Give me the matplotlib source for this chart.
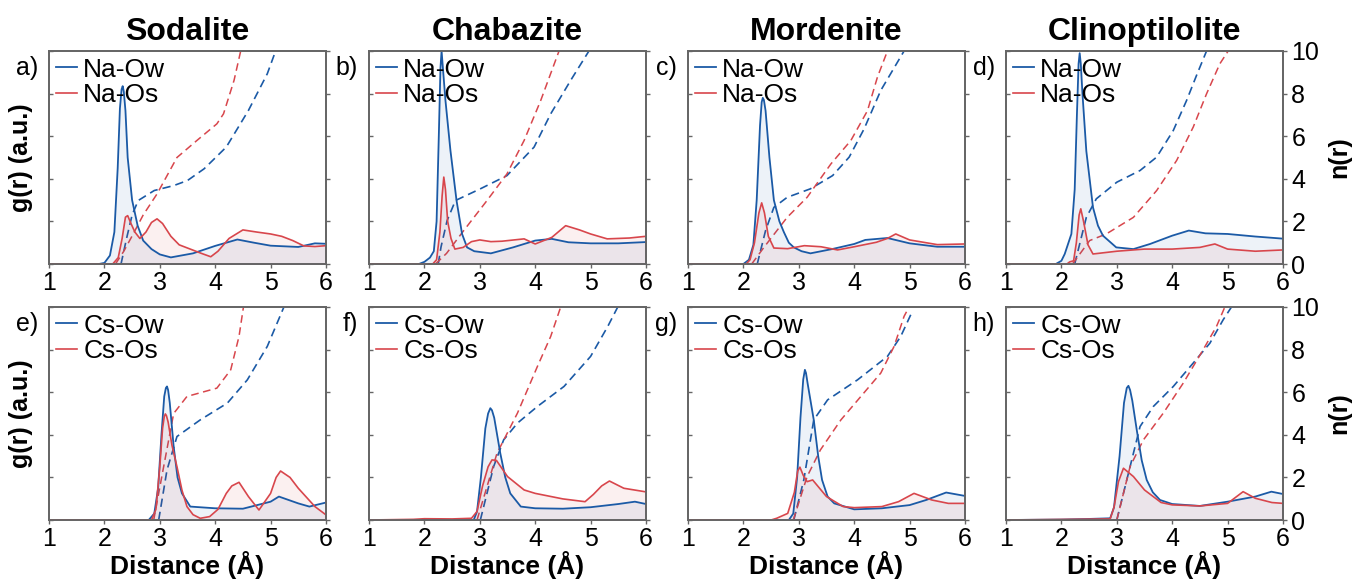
import matplotlib
matplotlib.use("Agg")
import matplotlib.pyplot as plt

plt.rcParams['font.family'] = ['Liberation Sans', 'DejaVu Sans']

titles = ["Sodalite", "Chabazite", "Mordenite", "Clinoptilolite"]
panel_letters = ["a)", "b)", "c)", "d)", "e)", "f)", "g)", "h)"]
ion_labels = ["Na", "Cs"]

# g(r) points (r, g) and n(r) points (r, n)
# --- Na row ---
a_ow = [(1.0, 0), (1.9, 0), (2.0, 0.05), (2.1, 0.4), (2.18, 1.5), (2.24, 4.5), (2.28, 7.3), (2.31, 8.2), (2.33, 8.35),
        (2.35, 8.1), (2.38, 7.2), (2.42, 5.0), (2.5, 3.0), (2.6, 1.8), (2.7, 1.1), (2.85, 0.7), (3.0, 0.45), (3.2, 0.31),
        (3.6, 0.5), (4.0, 0.85), (4.4, 1.15), (4.7, 1.0), (5.0, 0.86), (5.5, 0.8), (5.8, 0.97), (6.0, 0.95)]
a_os = [(1.0, 0), (2.15, 0), (2.25, 0.3), (2.32, 1.2), (2.38, 2.2), (2.42, 2.27), (2.48, 1.9), (2.55, 1.5),
        (2.64, 1.2), (2.75, 1.5), (2.85, 1.95), (2.95, 2.12), (3.05, 1.9), (3.2, 1.3), (3.35, 0.9),
        (3.55, 0.7), (3.75, 0.5), (3.92, 0.34), (4.05, 0.6), (4.25, 1.2), (4.5, 1.6), (4.75, 1.5),
        (5.0, 1.41), (5.2, 1.3), (5.4, 1.1), (5.6, 0.85), (5.8, 0.82), (6.0, 0.86)]
a_n_ow = [(2.3, 0), (2.4, 1.2), (2.5, 2.3), (2.61, 2.98), (2.9, 3.45), (3.25, 3.68), (3.5, 3.92), (3.8, 4.47),
          (4.2, 5.49), (4.6, 7.21), (4.94, 8.93), (5.09, 10), (5.15, 10.8)]
a_n_os = [(2.2, 0), (2.35, 0.6), (2.52, 1.41), (2.7, 2.3), (2.95, 3.29), (3.31, 5.0), (3.67, 5.8), (4.03, 6.58),
          (4.15, 7.05), (4.34, 8.62), (4.46, 10), (4.52, 10.8)]

b_ow = [(1.0, 0), (1.9, 0), (2.0, 0.1), (2.1, 0.3), (2.17, 0.6), (2.22, 2.0), (2.26, 6.0), (2.29, 9.2), (2.31, 10.0),
        (2.34, 9.0), (2.38, 7.68), (2.47, 5.33), (2.58, 2.98), (2.68, 1.41), (2.77, 0.78), (2.9, 0.6),
        (3.2, 0.5), (3.6, 0.78), (4.0, 1.1), (4.3, 1.18), (4.6, 1.02), (5.0, 0.97), (5.5, 0.97), (6.0, 1.03)]
b_os = [(1.0, 0), (2.15, 0), (2.22, 0.2), (2.28, 1.5), (2.32, 3.2), (2.35, 4.08), (2.38, 3.5), (2.42, 2.0),
        (2.48, 1.2), (2.55, 0.7), (2.7, 0.78), (2.85, 1.05), (3.0, 1.13), (3.2, 1.05), (3.4, 1.07),
        (3.8, 1.18), (4.0, 0.94), (4.3, 1.25), (4.55, 1.8), (4.8, 1.6), (5.0, 1.41), (5.3, 1.18),
        (5.7, 1.22), (6.0, 1.3)]
b_n_ow = [(2.25, 0), (2.3, 0.8), (2.41, 2.04), (2.56, 2.98), (3.01, 3.53), (3.49, 4.15), (3.98, 5.49),
          (4.28, 7.05), (4.64, 8.62), (4.97, 10), (5.02, 10.6)]
b_n_os = [(2.2, 0), (2.4, 0.5), (2.71, 1.57), (3.13, 2.98), (3.49, 4.23), (3.8, 5.8), (4.1, 7.68), (4.43, 10),
          (4.48, 10.6)]

c_ow = [(1.0, 0), (2.0, 0), (2.1, 0.2), (2.18, 0.9), (2.24, 3.0), (2.3, 6.5), (2.33, 7.6), (2.35, 7.8), (2.37, 7.7),
        (2.4, 7.2), (2.47, 5.0), (2.55, 3.0), (2.65, 2.0), (2.73, 1.5), (2.82, 1.0), (2.91, 0.78), (3.05, 0.6),
        (3.21, 0.5), (3.6, 0.7), (4.0, 0.94), (4.2, 1.13), (4.6, 1.22), (5.0, 0.97), (5.5, 0.81), (6.0, 0.81)]
c_os = [(1.0, 0), (2.05, 0), (2.12, 0.2), (2.2, 1.0), (2.28, 2.4), (2.33, 2.87), (2.38, 2.4), (2.45, 1.3),
        (2.55, 0.75), (2.8, 0.72), (3.1, 0.86), (3.4, 0.81), (3.7, 0.66), (4.0, 0.81), (4.4, 1.02),
        (4.6, 1.2), (4.75, 1.41), (5.0, 1.13), (5.5, 0.91), (6.0, 0.94)]
c_n_ow = [(2.25, 0), (2.4, 1.57), (2.55, 2.66), (2.79, 3.13), (3.21, 3.53), (3.61, 4.15), (3.91, 5.02),
          (4.18, 6.35), (4.48, 8.15), (4.9, 10), (4.95, 10.6)]
c_n_os = [(2.15, 0), (2.37, 0.78), (2.79, 2.19), (3.15, 3.13), (3.58, 4.7), (3.94, 5.8), (4.24, 7.2),
          (4.42, 8.78), (4.6, 10), (4.65, 10.6)]

d_ow = [(1.0, 0), (1.9, 0), (2.0, 0.15), (2.06, 0.47), (2.18, 1.41), (2.24, 3.5), (2.28, 7.0), (2.31, 9.4), (2.33, 9.9),
        (2.35, 9.4), (2.38, 8.0), (2.45, 5.3), (2.57, 2.66), (2.66, 1.8), (2.75, 1.33), (2.99, 0.78), (3.3, 0.7),
        (3.6, 0.94), (4.0, 1.33), (4.3, 1.57), (4.6, 1.44), (5.0, 1.41), (5.5, 1.29), (6.0, 1.19)]
d_os = [(1.0, 0), (2.1, 0), (2.15, 0.1), (2.22, 0.15), (2.27, 1.0), (2.32, 2.3), (2.35, 2.59), (2.4, 2.0),
        (2.48, 0.9), (2.57, 0.47), (3.0, 0.6), (3.5, 0.7), (4.0, 0.7), (4.5, 0.78), (4.77, 0.94),
        (5.0, 0.7), (5.5, 0.6), (6.0, 0.66)]
d_n_ow = [(2.24, 0), (2.45, 2.19), (2.63, 3.06), (3.0, 3.84), (3.42, 4.39), (3.72, 5.02), (4.02, 6.27),
          (4.26, 7.68), (4.44, 8.86), (4.62, 10), (4.68, 10.5)]
d_n_os = [(2.2, 0), (2.51, 1.1), (2.81, 1.41), (3.3, 2.19), (3.72, 3.45), (4.08, 4.86), (4.38, 6.43),
          (4.62, 7.99), (4.86, 9.4), (5.01, 10), (5.06, 10.4)]

# --- Cs row ---
e_ow = [(1.0, 0), (2.8, 0), (2.9, 0.3), (2.97, 1.5), (3.03, 4.0), (3.08, 5.8), (3.11, 6.2), (3.13, 6.27),
        (3.15, 6.1), (3.18, 5.5), (3.25, 3.45), (3.32, 2.0), (3.4, 1.25), (3.55, 0.63), (4.0, 0.55), (4.5, 0.53),
        (5.0, 0.86), (5.15, 1.1), (5.5, 0.78), (5.7, 0.63), (6.0, 0.82)]
e_os = [(1.0, 0), (2.85, 0), (2.93, 0.5), (3.0, 2.5), (3.05, 4.3), (3.08, 4.85), (3.1, 4.98), (3.12, 4.9), (3.15, 4.6),
        (3.22, 3.5), (3.31, 2.5), (3.4, 1.4), (3.49, 0.63), (3.6, 0.25), (3.73, 0.08), (3.9, 0.16), (4.05, 0.5),
        (4.2, 1.25), (4.3, 1.6), (4.43, 1.77), (4.6, 1.1), (4.79, 0.47), (5.0, 1.25), (5.1, 2.0),
        (5.18, 2.3), (5.35, 2.0), (5.5, 1.49), (5.8, 0.63), (6.0, 0.24)]
e_n_ow = [(2.98, 0), (3.13, 2.35), (3.31, 3.92), (3.73, 4.7), (4.22, 5.49), (4.58, 6.58), (4.94, 8.15),
          (5.24, 10), (5.28, 10.5)]
e_n_os = [(2.89, 0), (3.07, 2.51), (3.25, 5.0), (3.49, 5.8), (4.03, 6.19), (4.28, 7.05), (4.43, 8.62),
          (4.51, 10), (4.54, 10.5)]

f_ow = [(1.0, 0), (2.89, 0), (2.95, 0.4), (3.02, 2.0), (3.1, 4.3), (3.15, 5.0), (3.19, 5.25), (3.22, 5.15),
        (3.26, 4.8), (3.37, 3.13), (3.46, 2.0), (3.55, 1.25), (3.74, 0.63), (4.0, 0.55), (4.5, 0.53), (5.0, 0.6),
        (5.5, 0.75), (5.8, 0.86), (6.0, 0.75)]
f_os = [(1.0, 0), (1.8, 0.03), (2.0, 0.06), (2.5, 0.05), (2.85, 0.08), (2.95, 0.4), (3.05, 1.6), (3.15, 2.5),
        (3.22, 2.82), (3.3, 2.8), (3.5, 2.04), (3.8, 1.41), (4.0, 1.25), (4.5, 0.99), (4.9, 0.86),
        (5.05, 1.2), (5.2, 1.6), (5.34, 1.83), (5.6, 1.49), (6.0, 1.32)]
f_n_ow = [(3.01, 0), (3.25, 2.51), (3.43, 3.76), (3.68, 4.55), (4.04, 5.33), (4.52, 6.27), (5.0, 7.68),
          (5.31, 9.09), (5.49, 10), (5.53, 10.5)]
f_n_os = [(2.95, 0), (3.31, 3.13), (3.68, 5.02), (4.04, 7.21), (4.28, 8.62), (4.46, 10), (4.5, 10.5)]

g_ow = [(1.0, 0), (2.82, 0), (2.9, 0.3), (2.97, 2.0), (3.03, 4.8), (3.08, 6.6), (3.11, 7.05), (3.13, 6.9),
        (3.16, 6.4), (3.27, 4.7), (3.35, 3.0), (3.42, 1.88), (3.52, 1.1), (3.64, 0.78), (4.0, 0.5), (4.5, 0.55),
        (5.0, 0.7), (5.3, 0.94), (5.66, 1.29), (6.0, 1.13)]
g_os = [(1.0, 0), (2.5, 0), (2.6, 0.08), (2.8, 0.31), (2.92, 1.3), (2.98, 2.3), (3.02, 2.48), (3.08, 2.1),
        (3.15, 1.8), (3.25, 1.88), (3.5, 1.1), (3.8, 0.63), (4.0, 0.58), (4.5, 0.63), (4.8, 0.86),
        (5.08, 1.25), (5.4, 0.94), (5.7, 0.78), (6.0, 0.78)]
g_n_ow = [(2.91, 0), (3.09, 1.88), (3.27, 4.7), (3.52, 5.64), (4.06, 6.58), (4.6, 7.68), (4.84, 8.62),
          (5.05, 9.8)]
g_n_os = [(2.9, 0), (3.15, 2.04), (3.39, 3.29), (3.76, 4.7), (4.12, 5.8), (4.48, 6.9), (4.72, 8.15),
          (4.9, 9.56), (4.99, 10), (5.03, 10.4)]

h_ow = [(1.0, 0), (2.0, 0.02), (2.5, 0.05), (2.88, 0.08), (2.95, 0.6), (3.05, 3.0), (3.13, 5.5), (3.18, 6.2),
        (3.21, 6.3), (3.24, 6.1), (3.28, 5.6), (3.36, 4.23), (3.45, 2.8), (3.54, 1.88), (3.65, 1.3), (3.78, 0.94),
        (4.0, 0.75), (4.5, 0.66), (5.0, 0.86), (5.5, 1.1), (5.79, 1.33), (6.0, 1.22)]
h_os = [(1.0, 0), (2.88, 0.05), (2.95, 0.6), (3.03, 1.8), (3.12, 2.43), (3.3, 2.04), (3.5, 1.41),
        (3.8, 0.82), (4.0, 0.71), (4.5, 0.66), (5.0, 0.78), (5.28, 1.33), (5.5, 1.02), (5.8, 0.82), (6.0, 0.78)]
h_n_ow = [(3.0, 0), (3.18, 1.88), (3.42, 4.39), (3.66, 5.33), (4.02, 6.27), (4.38, 7.37), (4.68, 8.3),
          (4.92, 9.4), (5.07, 10), (5.11, 10.4)]
h_n_os = [(3.0, 0), (3.24, 2.51), (3.48, 3.76), (3.84, 5.02), (4.2, 6.43), (4.56, 8.0), (4.8, 9.09),
          (4.95, 10), (4.99, 10.4)]

gr_ow = [a_ow, b_ow, c_ow, d_ow, e_ow, f_ow, g_ow, h_ow]
gr_os = [a_os, b_os, c_os, d_os, e_os, f_os, g_os, h_os]
nr_ow = [a_n_ow, b_n_ow, c_n_ow, d_n_ow, e_n_ow, f_n_ow, g_n_ow, h_n_ow]
nr_os = [a_n_os, b_n_os, c_n_os, d_n_os, e_n_os, f_n_os, g_n_os, h_n_os]

BLUE = "#1b5aa6"
RED = "#d8464c"
SPINE = "#666666"

fig = plt.figure(figsize=(13.54, 5.83), dpi=100)

W, H = 1354, 583
lefts = [49, 369, 688, 1006]
ax_w = 277
tops = [51, 307]
ax_h = 213

for i in range(8):
    row, col = divmod(i, 4)
    ax = fig.add_axes([lefts[col] / W, 1 - (tops[row] + ax_h) / H, ax_w / W, ax_h / H])
    ax2 = ax.twinx()

    ion = ion_labels[row]
    r1, g1 = zip(*gr_ow[i])
    r2, g2 = zip(*gr_os[i])
    ax.fill_between(r1, 0, g1, color=BLUE, alpha=0.08, lw=0)
    ax.fill_between(r2, 0, g2, color=RED, alpha=0.08, lw=0)
    ax.plot(r1, g1, color=BLUE, lw=1.3, label=ion + "-Ow")
    ax.plot(r2, g2, color=RED, lw=1.2, label=ion + "-Os")

    n1r, n1 = zip(*nr_ow[i])
    n2r, n2 = zip(*nr_os[i])
    ax2.plot(n1r, n1, color=BLUE, lw=1.2, ls=(0, (5, 3)))
    ax2.plot(n2r, n2, color=RED, lw=1.1, ls=(0, (5, 3)))

    ax.set_xlim(1, 6)
    ax.set_ylim(0, 10)
    ax2.set_ylim(0, 10)
    ax.set_xticks([1, 2, 3, 4, 5, 6])
    ax.set_yticks([0, 2, 4, 6, 8, 10])
    ax.set_yticklabels([])
    ax2.set_yticks([0, 2, 4, 6, 8, 10])
    ax.tick_params(axis='x', direction='out', length=3, width=1, color=SPINE, labelsize=18, pad=2)
    ax.tick_params(axis='y', direction='in', length=3, width=1, color=SPINE)
    ax2.tick_params(axis='y', direction='out', length=3, width=1, color=SPINE, labelsize=18, pad=3)
    if col != 3:
        ax2.set_yticklabels([])
    else:
        ax2.set_ylabel("n(r)", fontsize=18, fontweight='bold', labelpad=6)

    for sp in list(ax.spines.values()) + list(ax2.spines.values()):
        sp.set_color(SPINE)
        sp.set_linewidth(1.3)

    if col == 0:
        ax.set_ylabel("g(r) (a.u.)", fontsize=18, fontweight='bold', labelpad=8)
    if row == 0:
        ax.set_title(titles[col], fontsize=23, fontweight='bold', pad=8)
    else:
        ax.set_xlabel("Distance (Å)", fontsize=19, fontweight='bold', labelpad=0)

    ax.text(-0.04, 0.92, panel_letters[i], transform=ax.transAxes, ha='right', va='center', fontsize=18)
    ax.legend(loc='upper left', frameon=False, fontsize=19, handlelength=0.8, handletextpad=0.25,
              labelspacing=0.05, borderaxespad=0.0, borderpad=0.25)
    ax.set_zorder(ax2.get_zorder() + 1)
    ax.patch.set_visible(False)

fig.savefig("out.png", dpi=100)
